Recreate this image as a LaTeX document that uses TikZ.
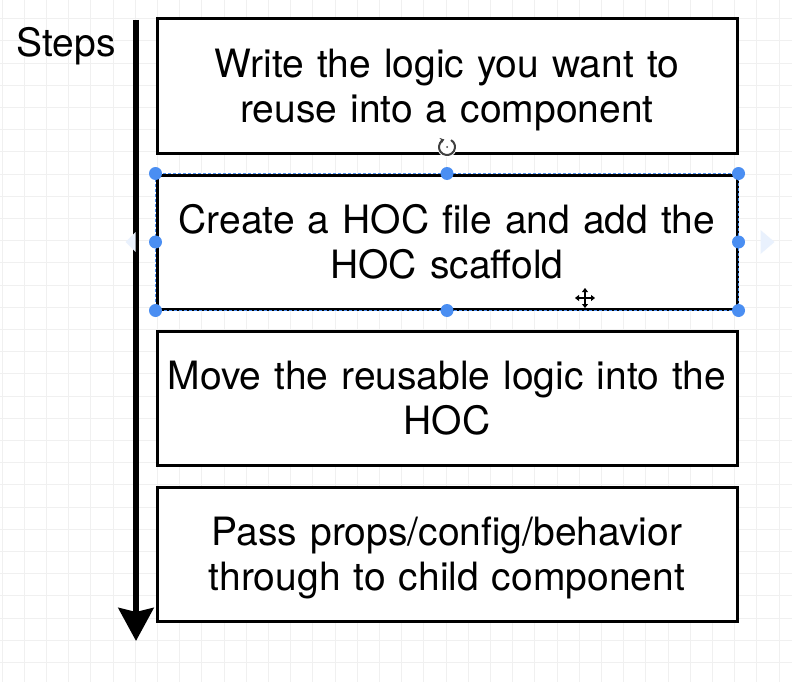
\documentclass[tikz,border=0pt]{standalone}
\usepackage{fontspec}
\setmainfont{TeX Gyre Heros}
\usetikzlibrary{arrows.meta,positioning,calc}

\tikzset{
  stepbox/.style={draw=black,line width=3pt,fill=white,minimum width=580pt,
    minimum height=134pt,text width=580pt,align=center,inner sep=0pt,
    font=\fontsize{39}{45}\selectfont},
  handle/.style={circle,fill=handleblue,inner sep=0pt,minimum size=13pt},
}

\begin{document}
\begin{tikzpicture}[x=1pt,y=-1pt]
        \colorlet{gridcol}{black!6}
        \definecolor{handleblue}{HTML}{4A8EF2}
        \colorlet{hintblue}{handleblue!12}

        \useasboundingbox[fill=white] (0,0) rectangle (792,682);

        % background grid
        \foreach \gx in {0,...,35}
          \draw[gridcol,line width=0.8pt] (2+22.2*\gx,0) -- (2+22.2*\gx,682);
        \foreach \gy in {0,...,30}
          \draw[gridcol,line width=0.8pt] (0,18.6+22.2*\gy) -- (792,18.6+22.2*\gy);

        \node[font=\fontsize{39}{45}\selectfont] (steps) at (66,46) {Steps};

        \coordinate (top) at (136,20);
        \coordinate (tip) at (136,641);
        \draw[line width=6pt,-{Stealth[length=33pt,width=35pt,inset=4pt]}] (top) -- (tip);

        \node[stepbox] (write) at (447,86) {Write the logic you want to\\\smash{reuse into a component}};
        \node[stepbox] (create) at (447,242) {Create a HOC file and add the\\HOC scaffold};
        \node[stepbox] (move) at (447,398.5) {Move the reusable logic into the\\HOC};
        \node[stepbox] (pass) at (447,554) {Pass props/config/behavior\\\smash{through to child component}};

        % selection of the second step
        \draw[handleblue,line width=1.2pt,dash pattern=on 3pt off 2pt]
          (create.north west) rectangle (create.south east);
        \foreach \anc in {north west,north,north east,west,east,south west,south,south east}
          \node[handle] (h-\anc) at (create.\anc) {};

        \fill[hintblue] ($(create.west)+(-20,-10)$) -- ($(create.west)+(-30,0)$) -- ($(create.west)+(-20,10)$) -- cycle;
        \fill[hintblue] ($(create.east)+(22,-12)$) -- ($(create.east)+(36,0)$) -- ($(create.east)+(22,12)$) -- cycle;

        % rotate handle
        \coordinate (rot) at (447,147);
        \fill[white] (rot) circle (10);
        \draw[black!75,line width=2pt,-{Stealth[length=4pt,width=6pt]}] (rot) ++(-60:8) arc[start angle=-60,end angle=250,radius=8];
        \fill[black!75] (rot) circle (1);

        % move cursor
        \coordinate (cur) at (585,298);
        \draw[white,line width=3.5pt] ($(cur)+(-10,0)$) -- ($(cur)+(10,0)$) ($(cur)+(0,-10)$) -- ($(cur)+(0,10)$);
        \draw[black,line width=1.5pt,{Triangle[length=4pt,width=6pt]}-{Triangle[length=4pt,width=6pt]}] ($(cur)+(-10,0)$) -- ($(cur)+(10,0)$);
        \draw[black,line width=1.5pt,{Triangle[length=4pt,width=6pt]}-{Triangle[length=4pt,width=6pt]}] ($(cur)+(0,-10)$) -- ($(cur)+(0,10)$);
\end{tikzpicture}
\end{document}
